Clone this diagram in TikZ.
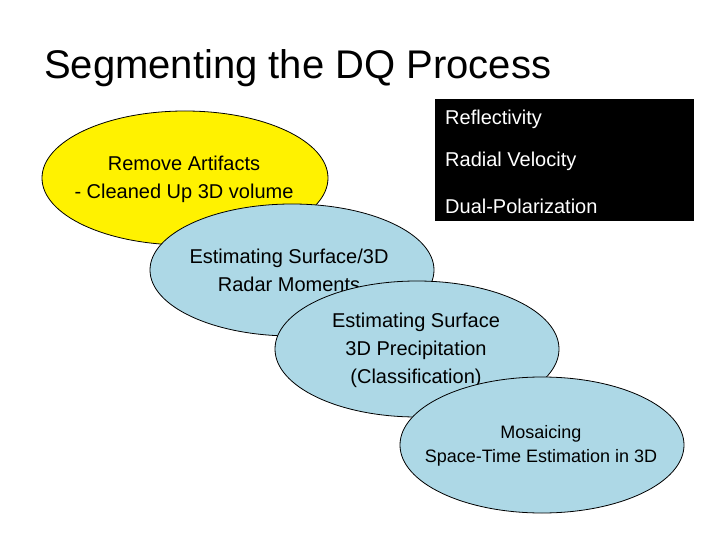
\documentclass[tikz,border=0pt]{standalone}
\usepackage{fontspec}
\setmainfont{Liberation Sans}
\definecolor{lblue}{RGB}{173,216,230}
\begin{document}
\begin{tikzpicture}[x=1pt,y=-1pt,
  ell/.style={draw=black,line width=0.8pt},
  txt/.style={font=\fontsize{20}{28}\selectfont,align=center,inner sep=0pt}]
\useasboundingbox[fill=white] (0,0) rectangle (720,540);
\node[anchor=west,font=\fontsize{40}{44}\selectfont,inner sep=0pt] (title) at (44,68) {Segmenting the DQ Process};
\node[fill=black,minimum width=259pt,minimum height=122pt,inner sep=0pt] (box) at (564.5,160) {};
\node[anchor=west,text=white,font=\fontsize{20}{24}\selectfont,inner sep=0pt] (r1) at (445,119) {Reflectivity};
\node[anchor=west,text=white,font=\fontsize{20}{24}\selectfont,inner sep=0pt] (r2) at (445,161) {Radial Velocity};
\node[anchor=west,text=white,font=\fontsize{20}{24}\selectfont,inner sep=0pt] (r3) at (445,206) {Dual-Polarization};
\fill[yellow,ell] (185,178) ellipse [x radius=143,y radius=67];
\node[txt] (t1) at (184,179) {Remove Artifacts\\- Cleaned Up 3D volume};
\fill[lblue,ell] (292,270) ellipse [x radius=142,y radius=66];
\node[txt] (t2) at (289,270) {Estimating Surface/3D\\Radar Moments};
\fill[lblue,ell] (417,349) ellipse [x radius=142,y radius=68];
\node[txt] (t3) at (416,350) {Estimating Surface\\3D Precipitation\\(Classification)};
\fill[lblue,ell] (542,445) ellipse [x radius=142,y radius=68];
\node[txt,font=\fontsize{18}{24}\selectfont] (t4) at (541,446) {Mosaicing\\Space-Time Estimation in 3D};
\end{tikzpicture}
\end{document}
